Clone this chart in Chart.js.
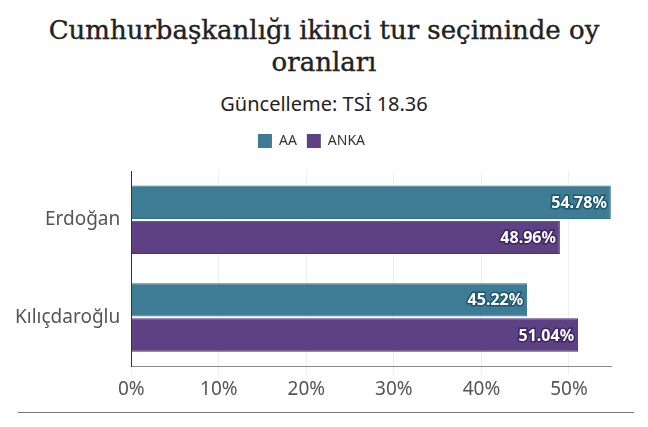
<!DOCTYPE html>
<html><head><meta charset="utf-8">
<script src="https://cdn.jsdelivr.net/npm/chart.js@4"></script>
<style>
body{margin:0;width:648px;height:427px;overflow:hidden;background:#fff;font-family:"Noto Sans",sans-serif;}
#t{position:absolute;top:14px;left:0;width:648px;text-align:center;font-family:"DejaVu Serif",serif;font-size:26px;line-height:32px;color:#222;-webkit-text-stroke:0.4px #222;}
#s{position:absolute;top:90px;left:0;width:648px;text-align:center;font-size:20px;color:#222;}
#c{position:absolute;top:124px;left:0;}
#f{position:absolute;top:412px;left:18px;width:616px;border-top:1px solid #777;}
</style></head><body>
<div id="t">Cumhurbaşkanlığı ikinci tur seçiminde oy<br>oranları</div>
<div id="s">Güncelleme: TSİ 18.36</div>
<div id="c"><canvas id="cv" width="648" height="281"></canvas></div>
<div id="f"></div>
<script>
const categories=["Erdoğan","Kılıçdaroğlu"];
const seriesAA=[54.78,45.22];
const seriesANKA=[48.96,51.04];
const ticks=[0,10,20,30,40,50];
const legendGap={id:'lgap',beforeInit(ch){const f=ch.legend.fit;ch.legend.fit=function(){f.call(this);this.height+=13;};}};
const labelPlugin={id:'lbl',afterDatasetsDraw(ch){const c=ch.ctx;c.save();c.font='bold 16px "Noto Sans"';c.textAlign='right';c.textBaseline='middle';
ch.data.datasets.forEach((d,i)=>{ch.getDatasetMeta(i).data.forEach((b,j)=>{const t=d.data[j].toFixed(2)+'%';c.lineWidth=3;c.strokeStyle=i?'#3d2566':'#1f5670';c.strokeText(t,b.x-4,b.y+1);c.fillStyle='#fff';c.fillText(t,b.x-4,b.y+1);});});c.restore();}};
new Chart(document.getElementById('cv'),{type:'bar',
data:{labels:categories,datasets:[
{label:'AA',data:seriesAA,backgroundColor:'#3e7c96',borderColor:'#2e6f8a',borderWidth:1},
{label:'ANKA',data:seriesANKA,backgroundColor:'#5e4183',borderColor:'#4d2f78',borderWidth:1}]},
plugins:[legendGap,labelPlugin],
options:{indexAxis:'y',responsive:false,animation:false,
layout:{padding:{left:12,right:37,top:0,bottom:0}},
datasets:{bar:{categoryPercentage:0.72,barPercentage:0.95}},
plugins:{legend:{labels:{boxWidth:14,boxHeight:14,padding:10,color:'#333',font:{size:14,family:'"Noto Sans"'},generateLabels:(ch)=>ch.data.datasets.map((d,i)=>({text:d.label,fillStyle:d.backgroundColor,strokeStyle:d.backgroundColor,lineWidth:0,datasetIndex:i,fontColor:'#333'}))}},tooltip:{enabled:false}},
scales:{x:{min:0,max:54.8,afterBuildTicks:a=>{a.ticks=ticks.map(v=>({value:v}));},ticks:{callback:v=>v+'%',color:'#555',padding:4,font:{size:19,family:'"Noto Sans"'}},grid:{color:'#eee',drawTicks:true,tickColor:'#eee'},border:{display:true,color:'#888'}},
y:{ticks:{color:'#555',font:{size:19,family:'"Noto Sans"'}},grid:{display:false,drawTicks:true},border:{color:'#333'}}}}});
</script></body></html>
